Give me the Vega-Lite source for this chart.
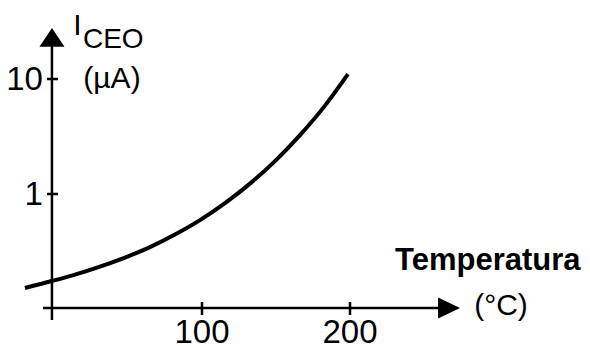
{
  "$schema": "https://vega.github.io/schema/vega-lite/v6.json",
  "width": 417,
  "height": 292,
  "autosize": {"type": "none"},
  "padding": {"left": 43, "top": 28, "right": 130, "bottom": 26},
  "background": "white",
  "config": {"view": {"stroke": null}, "text": {"font": "Liberation Sans", "color": "black"}},
  "datasets": {
    "curve": [
      {"T": -19.6, "I": 0.1523},
      {"T": -1.35, "I": 0.1751},
      {"T": 14.19, "I": 0.1991},
      {"T": 31.08, "I": 0.2337},
      {"T": 47.97, "I": 0.2799},
      {"T": 64.86, "I": 0.3452},
      {"T": 81.76, "I": 0.4436},
      {"T": 98.65, "I": 0.5929},
      {"T": 115.54, "I": 0.8335},
      {"T": 132.43, "I": 1.231},
      {"T": 149.32, "I": 1.932},
      {"T": 166.22, "I": 3.252},
      {"T": 183.11, "I": 5.87},
      {"T": 198.65, "I": 11.03}
    ],
    "one": [{}],
    "xticks": [{"v": 100, "label": "100"}, {"v": 200, "label": "200"}],
    "yticks": [{"v": 1, "label": "1"}, {"v": 10, "label": "10"}]
  },
  "layer": [
    {
      "data": {"name": "curve"},
      "mark": {"type": "line", "color": "black", "strokeWidth": 4, "interpolate": "monotone", "strokeCap": "butt"},
      "encoding": {
        "x": {"field": "T", "type": "quantitative", "axis": null, "scale": {"domain": [-7.4, 274.3], "nice": false, "zero": false}},
        "y": {"field": "I", "type": "quantitative", "axis": null, "scale": {"type": "log", "domain": [0.0802, 27.77], "nice": false}}
      }
    },
    {
      "data": {"name": "one"},
      "mark": {"type": "rule", "color": "black", "strokeWidth": 2.5},
      "encoding": {
        "x": {"datum": -1.35, "type": "quantitative", "axis": null, "scale": {"domain": [-7.4, 274.3], "nice": false, "zero": false}},
        "y": {"datum": 0.0802, "type": "quantitative", "axis": null, "scale": {"type": "log", "domain": [0.0802, 27.77], "nice": false}},
        "y2": {"datum": 19.4}
      }
    },
    {
      "data": {"name": "one"},
      "mark": {"type": "rule", "color": "black", "strokeWidth": 2.5},
      "encoding": {
        "x": {"datum": -7.4, "type": "quantitative", "axis": null, "scale": {"domain": [-7.4, 274.3], "nice": false, "zero": false}},
        "x2": {"datum": 262},
        "y": {"datum": 0.102, "type": "quantitative", "axis": null, "scale": {"type": "log", "domain": [0.0802, 27.77], "nice": false}}
      }
    },
    {
      "data": {"name": "one"},
      "mark": {"type": "point", "shape": "M0,-0.75L1,0.75L-1,0.75Z", "filled": true, "color": "black", "opacity": 1, "size": 625},
      "encoding": {
        "x": {"datum": -1.35, "type": "quantitative", "axis": null, "scale": {"domain": [-7.4, 274.3], "nice": false, "zero": false}},
        "y": {"datum": 23.0, "type": "quantitative", "axis": null, "scale": {"type": "log", "domain": [0.0802, 27.77], "nice": false}}
      }
    },
    {
      "data": {"name": "one"},
      "mark": {"type": "point", "shape": "M1,0L-1,-0.95L-1,0.95Z", "filled": true, "color": "black", "opacity": 1, "size": 484},
      "encoding": {
        "x": {"datum": 266.9, "type": "quantitative", "axis": null, "scale": {"domain": [-7.4, 274.3], "nice": false, "zero": false}},
        "y": {"datum": 0.102, "type": "quantitative", "axis": null, "scale": {"type": "log", "domain": [0.0802, 27.77], "nice": false}}
      }
    },
    {
      "data": {"name": "yticks"},
      "mark": {"type": "rule", "color": "black", "strokeWidth": 2.5},
      "encoding": {
        "x": {"datum": -4.7, "type": "quantitative", "axis": null, "scale": {"domain": [-7.4, 274.3], "nice": false, "zero": false}},
        "x2": {"datum": 2.7},
        "y": {"field": "v", "type": "quantitative", "axis": null, "scale": {"type": "log", "domain": [0.0802, 27.77], "nice": false}}
      }
    },
    {
      "data": {"name": "xticks"},
      "mark": {"type": "rule", "color": "black", "strokeWidth": 2.5},
      "encoding": {
        "x": {"field": "v", "type": "quantitative", "axis": null, "scale": {"domain": [-7.4, 274.3], "nice": false, "zero": false}},
        "y": {"datum": 0.115, "type": "quantitative", "axis": null, "scale": {"type": "log", "domain": [0.0802, 27.77], "nice": false}},
        "y2": {"datum": 0.0887}
      }
    },
    {
      "data": {"name": "yticks"},
      "mark": {"type": "text", "fontSize": 33, "align": "right", "baseline": "middle", "dx": -9, "dy": 1},
      "encoding": {
        "x": {"datum": -1.35, "type": "quantitative", "axis": null, "scale": {"domain": [-7.4, 274.3], "nice": false, "zero": false}},
        "y": {"field": "v", "type": "quantitative", "axis": null, "scale": {"type": "log", "domain": [0.0802, 27.77], "nice": false}},
        "text": {"field": "label"}
      }
    },
    {
      "data": {"name": "xticks"},
      "mark": {"type": "text", "fontSize": 33, "align": "center", "baseline": "alphabetic", "dy": 35},
      "encoding": {
        "x": {"field": "v", "type": "quantitative", "axis": null, "scale": {"domain": [-7.4, 274.3], "nice": false, "zero": false}},
        "y": {"datum": 0.102, "type": "quantitative", "axis": null, "scale": {"type": "log", "domain": [0.0802, 27.77], "nice": false}},
        "text": {"field": "label"}
      }
    },
    {
      "data": {"name": "one"},
      "mark": {"type": "text", "text": "I", "fontSize": 30, "align": "left", "baseline": "alphabetic"},
      "encoding": {
        "x": {"datum": 13.0, "type": "quantitative", "axis": null, "scale": {"domain": [-7.4, 274.3], "nice": false, "zero": false}},
        "y": {"datum": 24.1, "type": "quantitative", "axis": null, "scale": {"type": "log", "domain": [0.0802, 27.77], "nice": false}}
      }
    },
    {
      "data": {"name": "one"},
      "mark": {"type": "text", "text": "CEO", "fontSize": 28, "align": "left", "baseline": "alphabetic"},
      "encoding": {
        "x": {"datum": 19.6, "type": "quantitative", "axis": null, "scale": {"domain": [-7.4, 274.3], "nice": false, "zero": false}},
        "y": {"datum": 18.6, "type": "quantitative", "axis": null, "scale": {"type": "log", "domain": [0.0802, 27.77], "nice": false}}
      }
    },
    {
      "data": {"name": "one"},
      "mark": {"type": "text", "text": "(µA)", "fontSize": 30, "align": "center", "baseline": "middle"},
      "encoding": {
        "x": {"datum": 39.2, "type": "quantitative", "axis": null, "scale": {"domain": [-7.4, 274.3], "nice": false, "zero": false}},
        "y": {"datum": 10.0, "type": "quantitative", "axis": null, "scale": {"type": "log", "domain": [0.0802, 27.77], "nice": false}}
      }
    },
    {
      "data": {"name": "one"},
      "mark": {"type": "text", "text": "Temperatura", "fontSize": 31, "fontWeight": "bold", "align": "left", "baseline": "alphabetic"},
      "encoding": {
        "x": {"datum": 230.4, "type": "quantitative", "axis": null, "scale": {"domain": [-7.4, 274.3], "nice": false, "zero": false}},
        "y": {"datum": 0.218, "type": "quantitative", "axis": null, "scale": {"type": "log", "domain": [0.0802, 27.77], "nice": false}}
      }
    },
    {
      "data": {"name": "one"},
      "mark": {"type": "text", "text": "(°C)", "fontSize": 30, "align": "center", "baseline": "middle"},
      "encoding": {
        "x": {"datum": 302.0, "type": "quantitative", "axis": null, "scale": {"domain": [-7.4, 274.3], "nice": false, "zero": false}},
        "y": {"datum": 0.106, "type": "quantitative", "axis": null, "scale": {"type": "log", "domain": [0.0802, 27.77], "nice": false}}
      }
    }
  ]
}
